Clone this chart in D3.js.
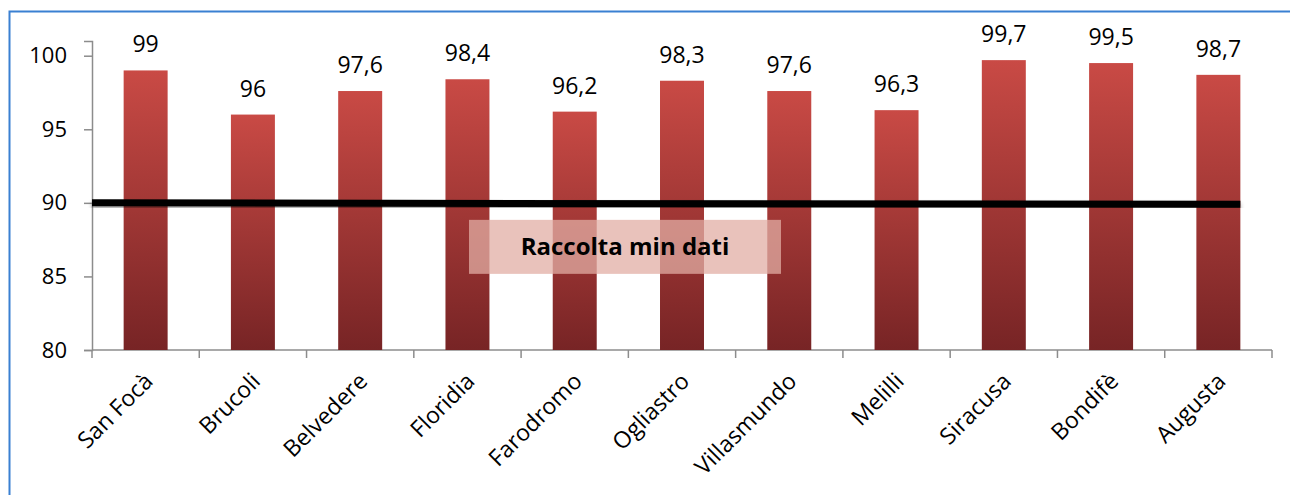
<!DOCTYPE html>
<html>
<head>
<meta charset="utf-8">
<script src="https://cdn.jsdelivr.net/npm/d3@7"></script>
<style>
  html, body { margin: 0; padding: 0; background: #fff; }
  svg { display: block; }
  text { font-family: "Open Sans", "Noto Sans", sans-serif; fill: #000; }
</style>
</head>
<body>
<svg id="chart" width="1290" height="495"></svg>
<script>
// Stations and collected data percentage
const categories = ["San Focà", "Brucoli", "Belvedere", "Floridia", "Farodromo", "Ogliastro",
  "Villasmundo", "Melilli", "Siracusa", "Bondifè", "Augusta"];
const values = [99, 96, 97.6, 98.4, 96.2, 98.3, 97.6, 96.3, 99.7, 99.5, 98.7];
const yTicks = [80, 85, 90, 95, 100];
const threshold = 90;
const thresholdLabel = "Raccolta min dati";

const svg = d3.select("#chart");
const W = 1290, H = 495;
const margin = { left: 92, top: 41 };
const plotRight = 1272, plotBottom = 350;

// Outer frame
svg.append("rect")
  .attr("x", 9.5).attr("y", 11.5)
  .attr("width", W + 20).attr("height", H + 20)
  .attr("fill", "none").attr("stroke", "#3a80d2").attr("stroke-width", 2);

const x = d3.scaleBand().domain(categories).range([margin.left, plotRight])
  .paddingInner(0.59).paddingOuter(0.295);
const y = d3.scaleLinear().domain([80, 101]).range([plotBottom, margin.top]);

// Bar gradient
const defs = svg.append("defs");
const grad = defs.append("linearGradient").attr("id", "barGrad")
  .attr("x1", 0).attr("y1", 0).attr("x2", 0).attr("y2", 1);
grad.append("stop").attr("offset", "0%").attr("stop-color", "#c94a45");
grad.append("stop").attr("offset", "100%").attr("stop-color", "#772425");

const shadow = defs.append("filter").attr("id", "lineShadow")
  .attr("x", "-5%").attr("y", "-200%").attr("width", "110%").attr("height", "500%");
shadow.append("feDropShadow").attr("dx", 0).attr("dy", 3).attr("stdDeviation", 2)
  .attr("flood-color", "#000").attr("flood-opacity", 0.35);

// Y axis
const yAxis = svg.append("g").attr("transform", `translate(${margin.left},0)`)
  .call(d3.axisLeft(y).tickValues(yTicks).tickSize(8).tickPadding(17));
yAxis.select(".domain").attr("stroke", "#8c8c8c").attr("stroke-width", 1.5);
yAxis.selectAll(".tick line").attr("stroke", "#8c8c8c").attr("stroke-width", 1.5);
yAxis.selectAll(".tick text").style("font-size", "22px").attr("fill", "#000")
  .style("font-family", "'Open Sans', sans-serif");

// X axis with boundary ticks
const xAxisG = svg.append("g");
xAxisG.append("line")
  .attr("x1", margin.left).attr("x2", plotRight)
  .attr("y1", plotBottom).attr("y2", plotBottom)
  .attr("stroke", "#8c8c8c").attr("stroke-width", 1.5);
const boundaries = d3.range(categories.length + 1).map(i => margin.left + i * (plotRight - margin.left) / categories.length);
xAxisG.selectAll("line.tk").data(boundaries).join("line").attr("class", "tk")
  .attr("x1", d => d).attr("x2", d => d)
  .attr("y1", plotBottom).attr("y2", plotBottom + 8)
  .attr("stroke", "#8c8c8c").attr("stroke-width", 1.5);

// Bars
svg.append("g").selectAll("rect").data(values).join("rect")
  .attr("x", (d, i) => x(categories[i]))
  .attr("y", d => y(d))
  .attr("width", x.bandwidth())
  .attr("height", d => plotBottom - y(d))
  .attr("fill", "url(#barGrad)");

// Value labels
svg.append("g").selectAll("text").data(values).join("text")
  .attr("x", (d, i) => x(categories[i]) + x.bandwidth() / 2)
  .attr("y", d => y(d) - 18)
  .attr("text-anchor", "middle")
  .style("font-size", "23px")
  .text(d => String(d).replace(".", ","));

// Category labels
svg.append("g").selectAll("text").data(categories).join("text")
  .attr("transform", d => `translate(${x(d) + x.bandwidth() / 2 + 3},${plotBottom + 27}) rotate(-45)`)
  .attr("text-anchor", "end")
  .attr("dy", "0.35em")
  .style("font-size", "23px")
  .text(d => d);

// Threshold line
const lastCat = categories[categories.length - 1];
svg.append("line")
  .attr("x1", margin.left).attr("x2", x(lastCat) + x.bandwidth())
  .attr("y1", y(threshold)).attr("y2", y(threshold) + 1.5)
  .attr("stroke", "#000").attr("stroke-width", 7)
  .attr("filter", "url(#lineShadow)");

// Threshold label box
const boxX = 469, boxW = 312, boxY = y(threshold) + 17, boxH = 54;
svg.append("rect")
  .attr("x", boxX).attr("y", boxY).attr("width", boxW).attr("height", boxH)
  .attr("fill", "#e2aea4").attr("fill-opacity", 0.75);
svg.append("text")
  .attr("x", boxX + boxW / 2).attr("y", boxY + boxH / 2)
  .attr("text-anchor", "middle").attr("dy", "0.35em")
  .style("font-size", "24px").style("font-weight", "bold")
  .text(thresholdLabel);
</script>
</body>
</html>
